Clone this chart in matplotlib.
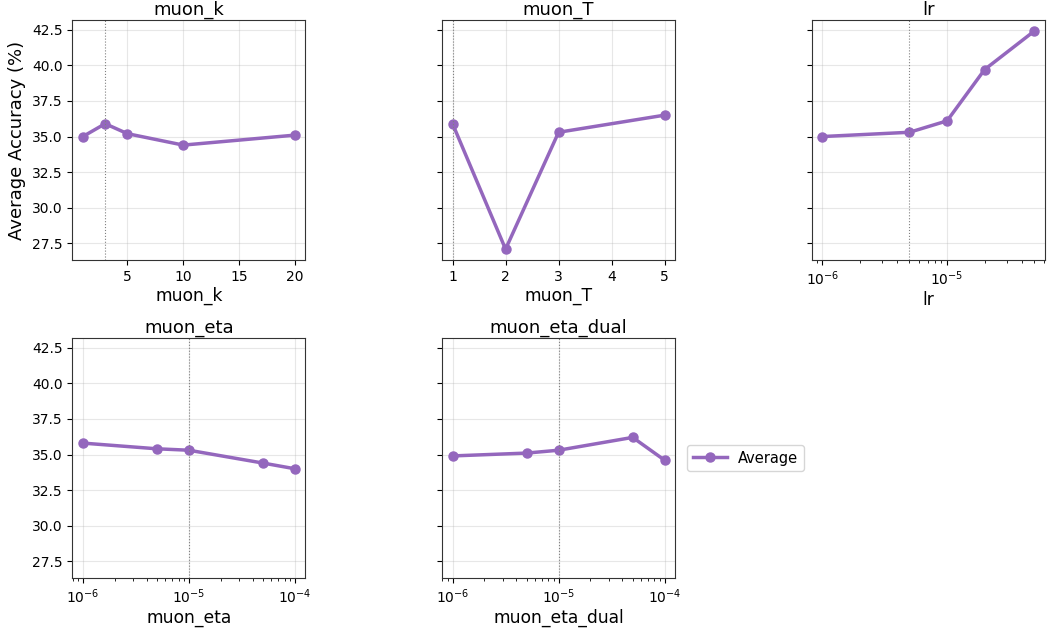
import numpy as np
import matplotlib; matplotlib.use('Agg')
import matplotlib.pyplot as plt

# sweep values
muon_k = [1, 3, 5, 10, 20]
acc_muon_k = [35.0, 35.9, 35.2, 34.4, 35.1]
muon_T = [1, 2, 3, 5]
acc_muon_T = [35.9, 27.1, 35.3, 36.5]
lr = [1e-6, 5e-6, 1e-5, 2e-5, 5e-5]
acc_lr = [35.0, 35.3, 36.1, 39.7, 42.4]
muon_eta = [1e-6, 5e-6, 1e-5, 5e-5, 1e-4]
acc_muon_eta = [35.8, 35.4, 35.3, 34.4, 34.0]
muon_eta_dual = [1e-6, 5e-6, 1e-5, 5e-5, 1e-4]
acc_muon_eta_dual = [34.9, 35.1, 35.3, 36.2, 34.6]

# default setting of each hyperparameter (dotted line)
defaults = {'muon_k': 3, 'muon_T': 1, 'lr': 5e-6, 'muon_eta': 1e-5, 'muon_eta_dual': 1e-5}

panels = [('muon_k', muon_k, acc_muon_k, False),
          ('muon_T', muon_T, acc_muon_T, False),
          ('lr', lr, acc_lr, True),
          ('muon_eta', muon_eta, acc_muon_eta, True),
          ('muon_eta_dual', muon_eta_dual, acc_muon_eta_dual, True)]

color = '#9467bd'
fig, axes = plt.subplots(2, 3, figsize=(10.47, 6.29), dpi=100, sharey=True)
axes = axes.ravel()
for ax, (name, xs, ys, logx) in zip(axes, panels):
    ax.plot(xs, ys, '-o', color=color, lw=2.5, ms=6.5, label='Average')
    if logx:
        ax.set_xscale('log')
    ax.axvline(defaults[name], color='gray', ls=':', lw=0.8)
    ax.set_title(name, fontsize=13, pad=4)
    ax.set_xlabel(name, fontsize=12.3, labelpad=2)
    ax.grid(True, alpha=0.3)
    ax.tick_params(labelsize=10)
    for s in ax.spines.values():
        s.set_color('#333333')
axes[0].set_ylabel('Average Accuracy (%)', fontsize=13)
axes[3].tick_params(labelleft=True)
axes[5].axis('off')
axes[4].legend(loc='center left', bbox_to_anchor=(1.02, 0.5), fontsize=10.5,
               handlelength=2.3)

plt.subplots_adjust(left=0.069, right=0.998, top=0.968, bottom=0.081,
                    wspace=0.585, hspace=0.325)
plt.savefig('out.png')
plt.close()
